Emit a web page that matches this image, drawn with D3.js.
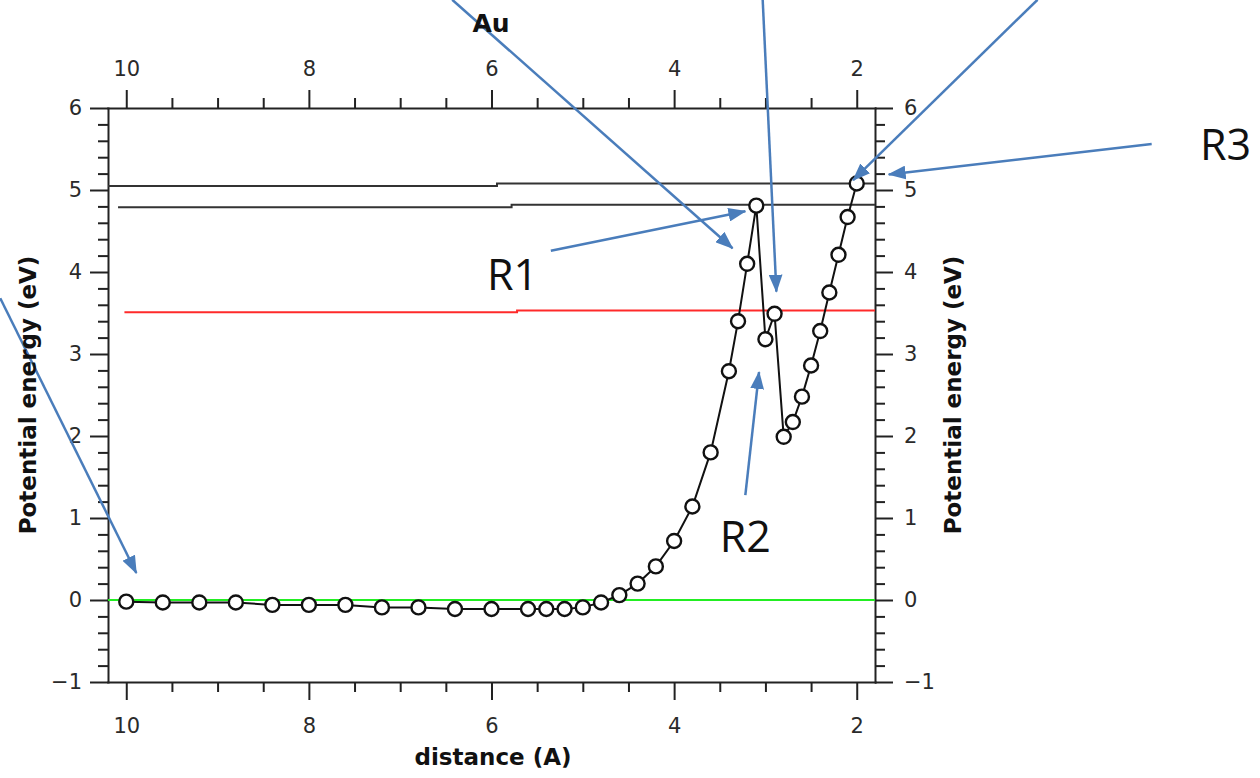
<!DOCTYPE html>
<html>
<head>
<meta charset="utf-8">
<script src="https://cdn.jsdelivr.net/npm/d3@7/dist/d3.min.js"></script>
<style>
    body { margin: 0; background: #fff; }
    .tick text { font-family: "DejaVu Sans", sans-serif; font-size: 21px; fill: #2a2a2a; }
    .axis path, .axis line { stroke: #222; stroke-width: 2; }
    .axis-title { font-family: "DejaVu Sans", sans-serif; font-weight: bold; font-size: 23px; fill: #111; }
    .note { font-family: "Open Sans", sans-serif; font-size: 43px; fill: #111; }
</style>
</head>
<body>
<div id="chart-area"></div>
<script>

// distance (A) and potential energy (eV) of the scan
var distances = [10, 9.6, 9.2, 8.8, 8.4, 8.0, 7.6, 7.2, 6.8, 6.4, 6.0, 5.6, 5.4, 5.2, 5.0,
    4.8, 4.6, 4.4, 4.2, 4.0, 3.8, 3.6, 3.4, 3.3, 3.2, 3.1, 3.0, 2.9, 2.8, 2.7, 2.6, 2.5,
    2.4, 2.3, 2.2, 2.1, 2.0];
var energies = [-0.02, -0.03, -0.03, -0.03, -0.06, -0.06, -0.06, -0.09, -0.09, -0.11, -0.11,
    -0.11, -0.11, -0.11, -0.09, -0.03, 0.06, 0.2, 0.41, 0.72, 1.14, 1.8, 2.79, 3.4, 4.1,
    4.81, 3.18, 3.49, 1.99, 2.17, 2.48, 2.86, 3.28, 3.75, 4.21, 4.67, 5.08];

// reference levels, each one a pair of segments [from, to, energy]
var levelBlackHigh = [[10.2, 5.94, 5.05], [5.94, 1.8, 5.08]];
var levelBlackLow = [[10.09, 5.78, 4.79], [5.78, 1.8, 4.82]];
var levelRed = [[10.02, 5.72, 3.51], [5.72, 1.8, 3.53]];
var levelGreen = [[10.2, 1.8, 0]];

var xMajorTicks = [10, 8, 6, 4, 2];
var yMajorTicks = [-1, 0, 1, 2, 3, 4, 5, 6];

// slide annotations, in data units: [x1, y1, x2 (tip), y2 (tip)]
var arrows = [
    [11.38, 3.68, 9.89, 0.33],
    [6.43, 7.32, 3.36, 4.29],
    [3.03, 7.32, 2.88, 3.76],
    [0.02, 7.32, 2.04, 5.12],
    [-1.23, 5.56, 1.65, 5.19],
    [5.35, 4.26, 3.22, 4.74],
    [3.22, 1.28, 3.07, 2.78]
];
var noteLabels = ["R1", "R2", "R3"];
var noteX = [5.77, 3.22, -2.04];
var noteY = [3.78, 0.585, 5.37];


EnergyPlot = function(_parentElement){
    var vis = this;
    vis.parentElement = _parentElement;
    vis.initVis();
};

EnergyPlot.prototype.initVis = function(){
    var vis = this;

    vis.margin = { top: 108, right: 385, bottom: 96, left: 108 };
    vis.width = 1260 - vis.margin.left - vis.margin.right;
    vis.height = 778 - vis.margin.top - vis.margin.bottom;

    vis.root = d3.select("#" + vis.parentElement).append("svg")
        .attr("width", 1260)
        .attr("height", 778);

    vis.svg = vis.root.append("g")
        .attr("transform", "translate(" + vis.margin.left + "," + vis.margin.top + ")");

    // x runs from large to small distance
    vis.x = d3.scaleLinear()
        .domain([10.2, 1.8])
        .range([0, vis.width]);

    vis.y = d3.scaleLinear()
        .domain([-1, 6])
        .range([vis.height, 0]);

    vis.data = distances.map(function(d, i){ return { x: d, y: energies[i] }; });

    vis.drawAxes();
    vis.updateVis();
};

EnergyPlot.prototype.drawAxes = function(){
    var vis = this;

    var xMinor = d3.range(2, 10.01, 0.5).filter(function(d){ return d % 2 !== 0; });
    var yMinor = d3.range(-1, 6.001, 0.2).map(function(d){ return Math.round(d * 10) / 10; })
        .filter(function(d){ return Math.abs(d - Math.round(d)) > 0.01; });

    function addAxis(axisFn, transform, ticks, minor, pad){
        var g = vis.svg.append("g")
            .attr("class", "axis")
            .attr("transform", transform);
        g.call(axisFn.tickValues(ticks).tickSize(18).tickSizeOuter(0).tickPadding(pad)
            .tickFormat(function(d){ return d < 0 ? "\u2212" + Math.abs(d) : d; }));
        var gm = vis.svg.append("g")
            .attr("class", "axis")
            .attr("transform", transform);
        gm.call(axisFn.tickValues(minor).tickSize(10).tickFormat(""));
        gm.select(".domain").remove();
    }

    addAxis(d3.axisBottom(vis.x), "translate(0," + vis.height + ")", xMajorTicks, xMinor, 18);
    addAxis(d3.axisTop(vis.x), "translate(0,0)", xMajorTicks, xMinor, 14);
    addAxis(d3.axisLeft(vis.y), "translate(0,0)", yMajorTicks, yMinor, 8);
    addAxis(d3.axisRight(vis.y), "translate(" + vis.width + ",0)", yMajorTicks, yMinor, 11);

    // extend the frame lines to the corners
    vis.svg.selectAll(".axis .domain").attr("stroke-linecap", "square");

    vis.root.append("text")
        .attr("class", "axis-title")
        .attr("text-anchor", "middle")
        .attr("transform", "translate(36,395) rotate(-90)")
        .text("Potential energy (eV)");

    vis.root.append("text")
        .attr("class", "axis-title")
        .attr("text-anchor", "middle")
        .attr("transform", "translate(961,395) rotate(-90)")
        .text("Potential energy (eV)");

    vis.root.append("text")
        .attr("class", "axis-title")
        .attr("text-anchor", "middle")
        .attr("x", 493)
        .attr("y", 765)
        .text("distance (A)");

    vis.root.append("text")
        .attr("class", "axis-title")
        .attr("text-anchor", "middle")
        .style("font-size", "25px")
        .attr("x", 491)
        .attr("y", 32)
        .text("Au");
};

EnergyPlot.prototype.updateVis = function(){
    var vis = this;

    var levels = [
        { segs: levelBlackHigh, color: "#333" },
        { segs: levelBlackLow, color: "#333" },
        { segs: levelRed, color: "#ff2a2a" },
        { segs: levelGreen, color: "#22ee22" }
    ];

    levels.forEach(function(lv){
        var pts = [];
        lv.segs.forEach(function(s){ pts.push([s[0], s[2]]); pts.push([s[1], s[2]]); });
        vis.svg.append("path")
            .attr("d", d3.line().x(function(d){ return vis.x(d[0]); }).y(function(d){ return vis.y(d[1]); })(pts))
            .attr("fill", "none")
            .attr("stroke", lv.color)
            .attr("stroke-width", 2);
    });

    vis.line = d3.line()
        .x(function(d){ return vis.x(d.x); })
        .y(function(d){ return vis.y(d.y); });

    vis.svg.append("path")
        .datum(vis.data)
        .attr("d", vis.line)
        .attr("fill", "none")
        .attr("stroke", "#111")
        .attr("stroke-width", 2);

    vis.svg.selectAll(".dot")
        .data(vis.data)
        .enter().append("circle")
        .attr("class", "dot")
        .attr("cx", function(d){ return vis.x(d.x); })
        .attr("cy", function(d){ return vis.y(d.y); })
        .attr("r", 7)
        .attr("fill", "#fff")
        .attr("stroke", "#111")
        .attr("stroke-width", 2.4);

    // blue arrows and labels pasted on top of the plot
    var blue = "#4a7dbb";
    vis.root.append("defs").append("marker")
        .attr("id", "head")
        .attr("markerUnits", "userSpaceOnUse")
        .attr("viewBox", "0 0 17 13")
        .attr("refX", 16)
        .attr("refY", 6.5)
        .attr("markerWidth", 18)
        .attr("markerHeight", 14)
        .attr("orient", "auto")
        .append("path")
        .attr("d", "M0,0 L17,6.5 L0,13 Z")
        .attr("fill", blue);

    vis.svg.selectAll(".arrow")
        .data(arrows)
        .enter().append("line")
        .attr("class", "arrow")
        .attr("x1", function(d){ return vis.x(d[0]); })
        .attr("y1", function(d){ return vis.y(d[1]); })
        .attr("x2", function(d){ return vis.x(d[2]); })
        .attr("y2", function(d){ return vis.y(d[3]); })
        .attr("stroke", blue)
        .attr("stroke-width", 2.5)
        .attr("marker-end", "url(#head)");

    vis.svg.selectAll(".note")
        .data(noteLabels)
        .enter().append("text")
        .attr("class", "note")
        .attr("text-anchor", "middle")
        .attr("x", function(d, i){ return vis.x(noteX[i]); })
        .attr("y", function(d, i){ return vis.y(noteY[i]); })
        .text(function(d){ return d; });
};

var plot = new EnergyPlot("chart-area");

</script>
</body>
</html>
